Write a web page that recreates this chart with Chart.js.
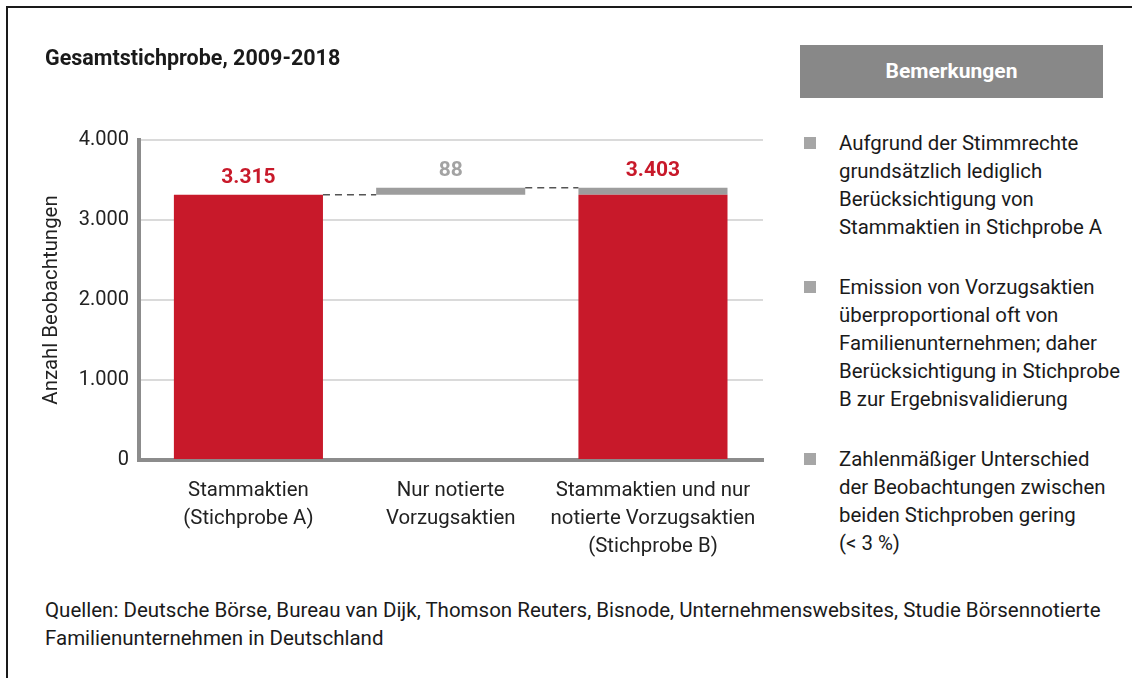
<!DOCTYPE html>
<html lang="de">
<head>
<meta charset="utf-8">
<title>Gesamtstichprobe, 2009-2018</title>
<script src="https://cdn.jsdelivr.net/npm/chart.js@4.4.1/dist/chart.umd.min.js"></script>
<style>
  html, body { margin: 0; padding: 0; background: #fff; overflow: hidden; }
  body { width: 1132px; height: 678px; position: relative; font-family: Roboto, sans-serif; color: #1a1a1a; }
  .frame { position: absolute; left: 6px; top: 6px; width: 1200px; height: 800px; border-left: 2px solid #1a1a1a; border-top: 2px solid #1a1a1a; }
  #wrap { position: absolute; left: 0; top: 0; width: 780px; height: 570px; }
  .title { position: absolute; left: 45px; top: 44px; font-weight: 700; font-size: 21.5px; line-height: 28px; white-space: nowrap; }
  .box { position: absolute; left: 800px; top: 45px; width: 303px; height: 53px; background: #888; color: #fff; font-weight: 700; font-size: 21px; line-height: 53px; text-align: center; }
  .notes { position: absolute; left: 839px; top: 129px; margin: 0; padding: 0; list-style: none; font-size: 20.4px; line-height: 28px; }
  .notes li { position: relative; margin: 0 0 32px 0; white-space: nowrap; }
  .notes li::before { content: ""; position: absolute; left: -35px; top: 8px; width: 12px; height: 12px; background: #a6a6a6; }
  .source { position: absolute; left: 45px; top: 596px; font-size: 20.5px; line-height: 28px; white-space: nowrap; }
</style>
</head>
<body>
<div class="frame"></div>
<div id="wrap"><canvas id="chart"></canvas></div>
<div class="title">Gesamtstichprobe, 2009-2018</div>
<div class="box">Bemerkungen</div>
<ul class="notes">
  <li>Aufgrund der Stimmrechte<br>grundsätzlich lediglich<br>Berücksichtigung von<br>Stammaktien in Stichprobe A</li>
  <li>Emission von Vorzugsaktien<br>überproportional oft von<br>Familienunternehmen; daher<br>Berücksichtigung in Stichprobe<br>B zur Ergebnisvalidierung</li>
  <li>Zahlenmäßiger Unterschied<br>der Beobachtungen zwischen<br>beiden Stichproben gering<br>(&lt; 3 %)</li>
</ul>
<div class="source">Quellen: Deutsche Börse, Bureau van Dijk, Thomson Reuters, Bisnode, Unternehmenswebsites, Studie Börsennotierte<br>Familienunternehmen in Deutschland</div>

<script>
// Daten
const categories = [
    ["Stammaktien", "(Stichprobe A)"],
    ["Nur notierte", "Vorzugsaktien"],
    ["Stammaktien und nur", "notierte Vorzugsaktien", "(Stichprobe B)"],
];
const stammaktien = [3315, null, 3315];
const vorzugsaktien = [null, 88, 88];
const barLabels = [3315, 88, 3403];
const yTicks = [0, 1000, 2000, 3000, 4000];

draw_chart();

function format_de(v) {
    return String(v).replace(/\B(?=(\d{3})+(?!\d))/g, ".");
}

// alle Balken einer Kategorie einsammeln
function bars_of(chart, i) {
    const list = [];
    chart.data.datasets.forEach((ds, d) => {
        chart.getDatasetMeta(d).data.forEach((bar, j) => {
            if (ds.data[j].x === i) list.push(bar);
        });
    });
    return list;
}

function draw_chart() {
    const $chart = document.querySelector("#chart");
    if (!$chart) {
        return;
    }
    const ctx = $chart.getContext("2d");

    // Wasserfall: Vorzugsaktien setzen auf den Stammaktien auf
    const basis = stammaktien[0];
    const redData = stammaktien
        .map((v, i) => (v == null ? null : { x: i, y: v }))
        .filter(Boolean);
    const greyData = vorzugsaktien
        .map((v, i) => (v == null ? null : { x: i, y: [basis, basis + v] }))
        .filter(Boolean);

    const valueLabels = {
        id: "valueLabels",
        afterDatasetsDraw(chart) {
            const c = chart.ctx;
            c.save();
            c.font = "bold 21px Roboto";
            c.textAlign = "center";
            c.textBaseline = "alphabetic";
            barLabels.forEach((value, i) => {
                const bars = bars_of(chart, i);
                const top = Math.min(...bars.map((b) => Math.min(b.y, b.base)));
                c.fillStyle = stammaktien[i] == null ? "#a3a3a3" : "#c8192a";
                c.fillText(format_de(value), bars[0].x, top - 12);
            });
            c.restore();
        },
    };

    const connectors = {
        id: "connectors",
        afterDatasetsDraw(chart) {
            const c = chart.ctx;
            c.save();
            c.strokeStyle = "#555";
            c.lineWidth = 1.5;
            c.setLineDash([7, 5]);
            for (let i = 0; i < categories.length - 1; i++) {
                const a = bars_of(chart, i);
                const b = bars_of(chart, i + 1);
                const y = Math.min(...a.map((bar) => Math.min(bar.y, bar.base)));
                const x1 = a[0].x + a[0].width / 2;
                const x2 = b[0].x - b[0].width / 2;
                c.beginPath();
                c.moveTo(x1, y);
                c.lineTo(x2, y);
                c.stroke();
            }
            c.restore();
        },
    };

    new Chart(ctx, {
        type: "bar",
        data: {
            datasets: [
                { data: redData, backgroundColor: "#c8192a" },
                { data: greyData, backgroundColor: "#9d9d9d" },
            ],
        },
        plugins: [valueLabels, connectors],
        options: {
            responsive: true,
            maintainAspectRatio: false,
            animation: false,
            categoryPercentage: 1,
            barPercentage: 0.737,
            layout: { padding: { top: 140, right: 17, left: 0, bottom: 0 } },
            plugins: {
                legend: { display: false },
                tooltip: { enabled: false },
            },
            scales: {
                x: {
                    type: "linear",
                    min: -0.541,
                    max: 2.544,
                    offset: false,
                    stacked: true,
                    grid: { display: false, offset: false },
                    border: { color: "#8c8c8c", width: 4 },
                    afterBuildTicks: (s) => {
                        s.ticks = categories.map((c, i) => ({ value: i }));
                    },
                    afterFit: (s) => {
                        s.height = 110;
                    },
                    ticks: {
                        autoSkip: false,
                        maxRotation: 0,
                        padding: 9,
                        color: "#222",
                        font: { family: "Roboto", size: 20.4, lineHeight: "28px" },
                        callback: (v) => categories[v],
                    },
                },
                y: {
                    min: 0,
                    max: 4000,
                    stacked: false,
                    afterBuildTicks: (s) => {
                        s.ticks = yTicks.map((v) => ({ value: v }));
                    },
                    afterFit: (s) => {
                        s.width = 139;
                    },
                    grid: {
                        drawTicks: false,
                        lineWidth: 2,
                        color: (c) => (c.tick && c.tick.value === 0 ? "rgba(0,0,0,0)" : "#dadada"),
                    },
                    border: { color: "#8c8c8c", width: 4 },
                    ticks: {
                        padding: 10,
                        color: "#222",
                        font: { family: "Roboto", size: 20 },
                        callback: (v) => format_de(v),
                    },
                    title: {
                        display: true,
                        text: "Anzahl Beobachtungen",
                        color: "#222",
                        font: { family: "Roboto", size: 20.4 },
                        padding: { top: 40, bottom: 0 },
                    },
                },
            },
        },
    });
}
</script>
</body>
</html>
